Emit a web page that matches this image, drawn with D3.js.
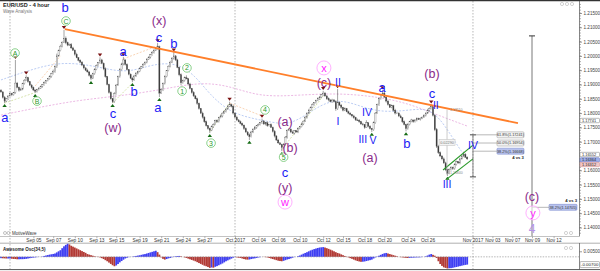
<!DOCTYPE html>
<html>
<head>
<meta charset="utf-8">
<script src="https://cdnjs.cloudflare.com/ajax/libs/d3/7.8.5/d3.min.js"></script>
<style>
  html, body { margin: 0; padding: 0; background: #fff; }
  svg { display: block; font-family: "Liberation Sans", Arial, sans-serif; }
</style>
</head>
<body>
<div id="chart"></div>
<script>
// EUR/USD 4 hour bars, prices kept as pips above 1.1000
const firstOpen = 880;
const closes = [
  874,855,842,850,860,868,864,872,905,890,880,884,903,915,924,910,898,890,881,876,
  882,887,894,899,906,913,920,928,938,946,962,1000,1018,1034,1048,1062,1046,1038,1040,1028,
  1020,1006,994,985,978,968,958,950,944,932,922,938,952,966,976,986,974,955,928,900,
  872,850,840,868,898,928,952,972,986,970,952,936,922,916,930,940,946,956,962,970,
  978,988,996,1004,1012,1020,1026,1032,870,882,904,928,948,964,978,992,1000,986,960,934,
  906,914,924,920,902,886,872,860,850,834,816,800,786,770,756,746,740,752,760,774,
  770,784,790,800,806,814,824,830,824,800,786,776,770,764,758,746,734,724,718,734,
  744,750,756,760,766,772,762,766,756,760,750,736,720,706,696,690,680,690,716,740,
  744,734,730,738,734,746,752,762,772,786,800,810,820,830,836,844,850,856,864,870,
  860,850,846,840,846,840,815,838,828,820,810,815,805,800,795,790,784,776,775,770,
  762,760,750,766,754,746,742,766,800,830,850,864,870,856,842,830,820,826,810,800,
  800,790,784,770,760,746,760,770,776,770,776,780,778,782,786,792,800,810,816,822,
  792,742,684,662,650,640,626,602,590,602,610,606,620,630,626,640,650,656,646,640
];
const wickHi = [
  4,3,5,3,2,4,3,2,81,4,3,5,3,4,8,3,2,4,3,2,
  3,4,2,3,5,3,2,4,3,6,5,8,4,5,3,29,6,4,3,5,
  4,3,5,2,3,4,3,2,5,3,4,3,5,4,3,9,4,3,5,2,
  3,4,2,5,4,3,5,4,10,3,4,2,3,5,4,3,2,4,3,5,
  3,4,2,3,5,4,3,13,4,5,3,4,2,3,5,4,13,3,4,2,
  5,3,4,8,3,4,2,5,3,4,3,2,5,3,4,2,3,5,4,3,
  4,3,5,2,4,3,5,10,3,4,2,5,3,4,3,2,4,3,5,4,
  3,5,2,4,3,9,4,3,5,2,4,3,5,3,4,2,3,5,4,3,
  4,3,5,2,3,4,3,5,2,4,3,5,3,4,2,3,5,4,3,8,
  4,3,5,2,4,3,5,46,3,4,2,5,3,4,3,2,4,3,5,4,
  3,4,2,9,3,4,2,5,4,3,5,3,11,4,3,5,2,4,3,5,
  4,3,5,2,4,3,5,3,4,2,3,5,4,3,2,4,3,5,4,9,
  5,4,6,5,4,3,5,4,3,5,4,3,5,4,3,4,3,9,4,3
];
const wickLo = [
  3,4,7,3,4,2,5,3,4,3,5,2,4,3,2,4,3,5,4,6,
  4,3,2,5,3,4,2,3,4,3,5,4,3,2,4,3,5,4,3,4,
  3,5,2,4,3,4,5,3,2,4,7,3,4,2,3,4,3,5,4,3,
  4,3,5,4,3,2,4,3,5,4,3,4,2,8,3,4,5,3,2,4,
  3,4,2,5,3,4,3,4,14,3,5,4,3,2,4,3,5,4,3,5,
  8,3,4,2,5,3,4,3,2,5,4,3,5,4,3,4,10,3,4,2,
  4,3,2,5,3,4,2,3,4,5,3,4,2,3,4,5,3,4,12,3,
  4,3,5,2,3,4,3,5,4,3,2,4,5,3,4,2,13,4,3,5,
  3,4,2,5,3,4,3,2,4,3,5,4,2,3,4,3,2,4,3,4,
  3,4,5,2,4,3,7,4,3,5,4,3,2,4,3,5,4,3,2,4,
  3,4,5,2,4,3,8,4,3,2,5,3,4,3,5,4,2,3,4,5,
  3,4,2,5,3,10,4,3,2,4,3,5,2,4,3,2,4,3,5,3,
  4,5,6,5,4,5,4,5,10,4,3,5,4,3,4,5,3,4,3,4
];
// Awesome Oscillator (34,5), in pips
const aoPips = [
  -12,-13,-14,-15,-15,-15,-17,-19,-20,-22,-22,-21,-21,-20,-18,-15,-12,-9,-7,-5,
  -3,-1,0,3,8,12,16,20,23,26,30,40,50,60,78,95,108,118,112,100,
  92,84,76,68,60,52,44,36,25,20,15,10,5,2,-2,-5,-12,-20,-30,-40,
  -52,-64,-76,-85,-78,-65,-50,-38,-26,-15,-8,-3,0,2,5,8,11,14,18,22,
  25,30,35,40,45,50,55,42,20,-5,-18,-25,-20,-14,-10,-4,2,5,7,8,
  5,0,-5,-10,-16,-22,-28,-34,-40,-48,-56,-64,-72,-80,-85,-92,-100,-96,-98,-90,
  -84,-76,-68,-60,-50,-40,-32,-24,-16,-8,-2,-5,-8,-10,-15,-20,-24,-25,-24,-20,
  -16,-14,-10,-6,-3,0,-1,-3,-5,-10,-15,-20,-25,-30,-35,-38,-40,-36,-30,-24,
  -20,-14,-8,-2,0,6,12,20,28,35,42,50,58,64,70,75,80,84,86,88,
  84,78,72,65,58,50,42,35,30,22,15,8,2,-5,-12,-18,-25,-32,-38,-42,
  -45,-44,-42,-38,-34,-30,-25,-15,-5,3,10,18,26,32,35,30,25,20,15,10,
  5,0,-3,-5,-7,-9,-10,-9,-8,-7,-6,-5,-5,-4,-2,0,5,12,20,25,
  18,10,-10,-40,-65,-82,-95,-100,-105,-103,-102,-99,-95,-92,-88,-84,-80,-76,-73,-70
];

const dateTicks = [18,29,41,53,64,77,89,101,113,130,143,154,166,179,190,202,213,226,237,262,273,284,295,307];
const dateLabels = ["Sep 05","Sep 07","Sep 10","Sep 13","Sep 15","Sep 19","Sep 21","Sep 24","Sep 27","Oct 2017",
  "Oct 04","Oct 06","Oct 10","Oct 12","Oct 15","Oct 18","Oct 20","Oct 24","Oct 26","Nov 2017","Nov 03","Nov 07","Nov 09","Nov 12"];
const monthBars = [5, 130, 262.2];
// 1.16500 sits under the price boxes, so it carries no label
const priceTicks = [1.14,1.145,1.15,1.155,1.16,1.17,1.175,1.18,1.185,1.19,1.195,1.2,1.205,1.21,1.215];
const oscTicks = [0.005];

// pivots marked with small triangles (bar index)
const highPivots = [8,14,35,55,68,87,96,127,145,179,187,212,239];
const lowPivots = [2,19,50,62,73,88,116,138,156,206,225,248];

// wave labels: [text, bar, pips]
const greenCircled = [["A",7.8,1010],["B",20,842],["C",36.1,1122],["1",100.6,877],["2",103.3,958],["3",116.7,695],["4",146.7,811],["5",157,646]];
const blueWaves = [["b",35.6,1171],["a",2.2,786],["a",67.8,1014],["b",74,877],["c",87.8,1066],["b",96,1042],["c",62.2,800],
  ["a",87.2,821],["c",157.8,594],["a",211.7,891],["b",225.5,695],["c",239.4,868]];
const blueRoman = [["I",187.2,772],["II",187.2,909],["IV",203.3,804],["III",201,709],["V",206.7,706],["II",241.6,828],["III",247.8,552],["IV",262.2,688]];
const purpleWaves = [["(x)",87.8,1122],["(w)",62.2,748],["(a)",157.8,769],["(b)",160.6,681],["(y)",157.8,538],["(c)",179.4,905],
  ["(a)",205,646],["(b)",239.4,938],["(c)",295,507]];
const pinkCircled = [["x",179.4,958],["w",157.8,489],["y",295.5,451]];
const lavenderWaves = [["4",295,396]];

// trend line and channel: [bar, pips]
const trendLine = [[35.5,1094],[287.2,765]];
const channelUpper = [[245.6,601],[262.2,688]];
const channelLower = [[247.8,570],[262.2,640]];

// moving averages: [bar, pips]
const maSlow = [[0,793],[21.7,821],[43.9,846],[66.1,860],[88.3,881],[110.6,909],[127.2,895],[143.9,856],[166.1,863],
  [188.3,870],[210.6,856],[227.2,832],[243.9,790],[258.9,755]];
const maMid = [[0,916],[16.1,951],[32.8,979],[49.4,968],[60.6,951],[71.7,944],[82.8,968],[96.7,979],[107.8,933],[116.1,863],
  [127.2,804],[138.3,783],[149.4,769],[160.6,758],[171.7,804],[182.8,846],[193.9,839],[205,811],[216.1,804],[227.2,811],
  [238.3,818],[246.7,758],[255,671],[258.9,643]];
const guideGreen = [[[2,835],[19,872]],[[62,835],[73,905]],[[116,735],[127,835]],[[156,672],[179,860]]];
const guideOrange = [[[19,895],[33,1000]],[[68,990],[87,1035]],[[127,835],[145,790]]];

// fibonacci projections
const fibBar = 262.2;
const fibLevels = [["61.8%",1.17241],["50.0%",1.16954],["38.2%",1.16668]];
const fibRange = [1.17241, 1.1577];
const targetBar = 295;
const targetRange = [1.2070, 1.1370];
const targetLevel = ["38.2%", 1.14705];
const dropBar = 247.8;
const dropRange = [1.1811, 1.1584];

const axisMarks = [[1.17741,"plain"],[1.16552,"plain"],[1.16364,"bid"],[1.16312,"ask"]];

const W = 600, H = 271;
const P = v => 1.1 + v / 10000;
const x = d3.scaleLinear().domain([0, 321]).range([1, 1 + 321 * 1.8]);
const y = d3.scaleLinear().domain([1.13633, 1.21955]).range([238, 0]);
const yo = d3.scaleLinear().domain([-0.0110, 0.0125]).range([269, 243]);

const bars = closes.map((c, i) => {
  const o = i ? closes[i - 1] : firstOpen;
  return {i: i, o: P(o), c: P(c), h: P(Math.max(o, c) + wickHi[i]), l: P(Math.min(o, c) - wickLo[i])};
});

const svg = d3.select("#chart").append("svg").attr("width", W).attr("height", H);
const defs = svg.append("defs");
defs.append("clipPath").attr("id", "clipMain").append("rect").attr("x", 0).attr("y", 1).attr("width", 579).attr("height", 235);
defs.append("clipPath").attr("id", "clipOsc").append("rect").attr("x", 0).attr("y", 243).attr("width", 579).attr("height", 26);

// month separators
svg.append("g").selectAll("line").data(monthBars).join("line")
  .attr("x1", d => x(d)).attr("x2", d => x(d)).attr("y1", 1).attr("y2", 269)
  .attr("stroke", "#9a9a9a").attr("stroke-width", 0.7).attr("stroke-dasharray", "1.5,1.5");

const main = svg.append("g").attr("clip-path", "url(#clipMain)");

// moving averages
const ln = d3.line().x(d => x(d[0])).y(d => y(P(d[1]))).curve(d3.curveBasis);
main.append("path").attr("d", ln(maSlow)).attr("fill", "none").attr("stroke", "#e6a6dc").attr("stroke-width", 0.8).attr("stroke-dasharray", "2,1.5");
main.append("path").attr("d", ln(maMid)).attr("fill", "none").attr("stroke", "#a9bff0").attr("stroke-width", 0.8).attr("stroke-dasharray", "2,1.5");
const lnStraight = d3.line().x(d => x(d[0])).y(d => y(P(d[1])));
main.append("g").selectAll("path").data(guideGreen).join("path").attr("d", lnStraight)
  .attr("fill", "none").attr("stroke", "#cddc9a").attr("stroke-width", 0.8).attr("stroke-dasharray", "2,1.5");
main.append("g").selectAll("path").data(guideOrange).join("path").attr("d", lnStraight)
  .attr("fill", "none").attr("stroke", "#f7c9a2").attr("stroke-width", 0.8).attr("stroke-dasharray", "2,1.5");

// candles
const cg = main.append("g");
cg.selectAll("line").data(bars).join("line")
  .attr("x1", d => x(d.i)).attr("x2", d => x(d.i))
  .attr("y1", d => y(d.h)).attr("y2", d => y(d.l))
  .attr("stroke", "#444").attr("stroke-width", 0.5);
cg.selectAll("rect").data(bars).join("rect")
  .attr("x", d => x(d.i) - 0.6).attr("width", 1.2)
  .attr("y", d => y(Math.max(d.o, d.c)))
  .attr("height", d => Math.max(0.6, Math.abs(y(d.o) - y(d.c))))
  .attr("fill", d => d.c >= d.o ? "#fff" : "#3a3a3a")
  .attr("stroke", "#555").attr("stroke-width", 0.3);

// pivot triangles
main.append("g").selectAll("path").data(highPivots).join("path")
  .attr("d", k => { const cx = x(k), cy = y(bars[k].h) - 0.8; return `M${cx - 2.2},${cy - 3}L${cx + 2.2},${cy - 3}L${cx},${cy}Z`; })
  .attr("fill", "#7a1212");
main.append("g").selectAll("path").data(lowPivots).join("path")
  .attr("d", k => { const cx = x(k), cy = y(bars[k].l) + 0.8; return `M${cx - 2.2},${cy + 3}L${cx + 2.2},${cy + 3}L${cx},${cy}Z`; })
  .attr("fill", "#156b15");

// trend line and channel
main.append("path").attr("d", lnStraight(trendLine)).attr("stroke", "#ff7f2a").attr("stroke-width", 1.8).attr("fill", "none");
main.append("path").attr("d", lnStraight(channelUpper)).attr("stroke", "#2b9a2b").attr("stroke-width", 1.2).attr("fill", "none");
main.append("path").attr("d", lnStraight(channelLower)).attr("stroke", "#2b9a2b").attr("stroke-width", 1.2).attr("fill", "none");

// drop measurement
const dx = x(dropBar);
main.append("line").attr("x1", dx).attr("x2", dx).attr("y1", y(dropRange[0])).attr("y2", y(dropRange[1]))
  .attr("stroke", "#aaa").attr("stroke-width", 0.6);
main.append("rect").attr("x", dx - 8).attr("y", y((dropRange[0] + dropRange[1]) / 2) - 3).attr("width", 16).attr("height", 6)
  .attr("fill", "#f4f4f4").attr("stroke", "#bbb").attr("stroke-width", 0.5);
main.append("text").attr("x", dx).attr("y", y((dropRange[0] + dropRange[1]) / 2)).attr("dy", "0.35em")
  .attr("text-anchor", "middle").attr("font-size", 3.8).attr("fill", "#777")
  .text((dropRange[0] - dropRange[1] + 0.0002).toFixed(5));
main.append("text").attr("x", dx + 3).attr("y", y(dropRange[0]) + 1).attr("font-size", 3.5).attr("fill", "#888").text(dropRange[0].toFixed(5));
main.append("text").attr("x", dx + 3).attr("y", y(dropRange[1]) - 1).attr("font-size", 3.5).attr("fill", "#888").text(dropRange[1].toFixed(5));

// fib measurement near IV
const fx = x(fibBar);
const ann = main.append("g");
function capLine(g, cx, p1, p2) {
  g.append("line").attr("x1", cx).attr("x2", cx).attr("y1", y(p1)).attr("y2", y(p2)).attr("stroke", "#555").attr("stroke-width", 0.7);
  [p1, p2].forEach(p => g.append("line").attr("x1", cx - 3).attr("x2", cx + 3).attr("y1", y(p)).attr("y2", y(p)).attr("stroke", "#333").attr("stroke-width", 0.9));
}
capLine(ann, fx, fibRange[0], fibRange[1]);
fibLevels.forEach((f, i) => {
  const yy = y(f[1]);
  ann.append("line").attr("x1", fx).attr("x2", fx + 24).attr("y1", yy).attr("y2", yy).attr("stroke", "#888").attr("stroke-width", 0.6);
  ann.append("rect").attr("x", fx + 24).attr("y", yy - 3).attr("width", 27).attr("height", 6).attr("rx", 1)
    .attr("fill", i === 2 ? "#b9c3ee" : "#f2f2f2").attr("stroke", i === 2 ? "#7080c8" : "#999").attr("stroke-width", 0.5);
  ann.append("text").attr("x", fx + 37.5).attr("y", yy).attr("dy", "0.35em").attr("text-anchor", "middle")
    .attr("font-size", 3.8).attr("fill", "#333").text(`${f[0]}(${f[1].toFixed(5)})`);
});
ann.append("text").attr("x", fx + 51).attr("y", y(fibLevels[2][1]) + 7.5).attr("text-anchor", "end")
  .attr("font-size", 4.2).attr("font-weight", "bold").attr("fill", "#222").text("4 vs 3");

// target projection
const tx = x(targetBar);
ann.append("line").attr("x1", tx).attr("x2", tx).attr("y1", y(targetRange[0])).attr("y2", y(targetRange[1])).attr("stroke", "#555").attr("stroke-width", 0.8);
ann.append("line").attr("x1", tx - 3).attr("x2", tx + 3).attr("y1", y(targetRange[0])).attr("y2", y(targetRange[0])).attr("stroke", "#333").attr("stroke-width", 1);
const ty = y(targetLevel[1]);
ann.append("line").attr("x1", tx).attr("x2", tx + 17).attr("y1", ty).attr("y2", ty).attr("stroke", "#888").attr("stroke-width", 0.6);
ann.append("rect").attr("x", tx + 17).attr("y", ty - 3).attr("width", 28).attr("height", 6).attr("rx", 1)
  .attr("fill", "#b9c3ee").attr("stroke", "#7080c8").attr("stroke-width", 0.5);
ann.append("text").attr("x", tx + 31).attr("y", ty).attr("dy", "0.35em").attr("text-anchor", "middle")
  .attr("font-size", 3.8).attr("fill", "#333").text(`${targetLevel[0]}(${targetLevel[1].toFixed(5)})`);
ann.append("text").attr("x", tx + 45).attr("y", ty - 5.5).attr("text-anchor", "end")
  .attr("font-size", 4.2).attr("font-weight", "bold").attr("fill", "#222").text("4 vs 3");

// wave labels
const lab = svg.append("g").attr("clip-path", "url(#clipMain)");
function circled(list, r, fs, ring, ink) {
  const g = lab.append("g").selectAll("g").data(list).join("g")
    .attr("transform", d => `translate(${x(d[1])},${y(P(d[2]))})`);
  g.append("circle").attr("r", r).attr("fill", "#fff").attr("fill-opacity", 0.6).attr("stroke", ring).attr("stroke-width", 0.8);
  g.append("text").attr("text-anchor", "middle").attr("dy", "0.36em").attr("font-size", fs).attr("fill", ink).text(d => d[0]);
}
function plain(list, fs, ink) {
  lab.append("g").selectAll("text").data(list).join("text")
    .attr("x", d => x(d[1])).attr("y", d => y(P(d[2]))).attr("dy", "0.35em")
    .attr("text-anchor", "middle").attr("font-size", fs).attr("fill", ink).text(d => d[0]);
}
circled(greenCircled, 4.3, 7, "#6cc46c", "#2a9a2a");
circled(pinkCircled, 7, 11, "#ff9cff", "#ff22ff");
plain(blueWaves, 13, "#1c1cf5");
plain(blueRoman, 10.5, "#1c1cf5");
plain(purpleWaves, 12.5, "#8a2a8a");
plain(lavenderWaves, 12, "#b592e6");

// titles
svg.append("text").attr("x", 3).attr("y", 6.5).attr("font-size", 5.5).attr("font-weight", "bold").attr("fill", "#222").text("EUR/USD - 4 hour");
svg.append("text").attr("x", 3).attr("y", 13).attr("font-size", 4.5).attr("fill", "#777").text("Wave Analysis");
svg.append("circle").attr("cx", 5).attr("cy", 233).attr("r", 1.5).attr("fill", "none").attr("stroke", "#999").attr("stroke-width", 0.6);
svg.append("circle").attr("cx", 8.5).attr("cy", 233).attr("r", 1.5).attr("fill", "none").attr("stroke", "#999").attr("stroke-width", 0.6);
svg.append("text").attr("x", 12).attr("y", 234.6).attr("font-size", 4.5).attr("fill", "#333").text("MotiveWave");
[[562, 4], [567, 4], [572, 4], [566, 233], [571, 233], [566, 248], [571, 248]].forEach(c =>
  svg.append("circle").attr("cx", c[0]).attr("cy", c[1]).attr("r", 1.6).attr("fill", "none").attr("stroke", "#b5b5b5").attr("stroke-width", 0.6));

// frame lines
svg.append("line").attr("x1", 0).attr("x2", W).attr("y1", 0.6).attr("y2", 0.6).attr("stroke", "#333").attr("stroke-width", 1.4);
svg.append("line").attr("x1", 0).attr("x2", 579).attr("y1", 236.5).attr("y2", 236.5).attr("stroke", "#9a9a9a").attr("stroke-width", 0.6);
svg.append("line").attr("x1", 0).attr("x2", W).attr("y1", 243.2).attr("y2", 243.2).attr("stroke", "#9a9a9a").attr("stroke-width", 0.8);
svg.append("line").attr("x1", 0).attr("x2", W).attr("y1", 269.6).attr("y2", 269.6).attr("stroke", "#555").attr("stroke-width", 1);
svg.append("line").attr("x1", 579.5).attr("x2", 579.5).attr("y1", 1).attr("y2", 236.5).attr("stroke", "#555").attr("stroke-width", 0.7);
svg.append("line").attr("x1", 579.5).attr("x2", 579.5).attr("y1", 243).attr("y2", 269.5).attr("stroke", "#555").attr("stroke-width", 0.7);

// price axis
const minor = svg.append("g");
minor.selectAll("line").data(y.ticks(80).filter(t => y(t) > 2 && y(t) < 236)).join("line")
  .attr("x1", 579.5).attr("x2", 581).attr("y1", t => y(t)).attr("y2", t => y(t)).attr("stroke", "#666").attr("stroke-width", 0.5);
const axR = svg.append("g").attr("transform", "translate(579.5,0)")
  .call(d3.axisRight(y).tickValues(priceTicks).tickFormat(d3.format(".5f")).tickSize(2.5).tickPadding(1.5));
axR.select(".domain").remove();
axR.selectAll("line").attr("stroke", "#555").attr("stroke-width", 0.6);
axR.selectAll("text").attr("font-size", 4.6).attr("fill", "#444").attr("font-family", "Liberation Sans, Arial, sans-serif");

// price boxes on the axis, stacked so they never cover each other
const markStyle = {plain: ["#fff", "#777"], bid: ["#9fb0ea", "#5c6fc4"], ask: ["#f1c7c7", "#c88"]};
let lastBoxY = -10;
axisMarks.forEach(m => {
  const yy = Math.max(y(m[0]), lastBoxY + 4.6);
  lastBoxY = yy;
  svg.append("rect").attr("x", 580).attr("y", yy - 2.2).attr("width", 19.5).attr("height", 4.4).attr("rx", 0.8)
    .attr("fill", markStyle[m[1]][0]).attr("stroke", markStyle[m[1]][1]).attr("stroke-width", 0.5);
  svg.append("text").attr("x", 582).attr("y", yy).attr("dy", "0.35em").attr("font-size", 3.9).attr("fill", "#222").text(m[0].toFixed(5));
});

// date axis
const axB = svg.append("g").attr("transform", "translate(0,236.5)")
  .call(d3.axisBottom(x).tickValues(dateTicks).tickFormat((d, i) => dateLabels[i]).tickSize(1.8).tickPadding(0.6));
axB.select(".domain").remove();
axB.selectAll("line").attr("stroke", "#666").attr("stroke-width", 0.5);
axB.selectAll("text").attr("font-size", 4.8).attr("fill", "#333").attr("font-family", "Liberation Sans, Arial, sans-serif");

// awesome oscillator
const osc = svg.append("g").attr("clip-path", "url(#clipOsc)");
osc.selectAll("rect").data(aoPips).join("rect")
  .attr("x", (d, i) => x(i) - 0.9).attr("width", 1.8)
  .attr("y", d => Math.min(yo(d / 10000), yo(0)))
  .attr("height", d => Math.abs(yo(d / 10000) - yo(0)))
  .attr("fill", (d, i) => (i > 0 && d < aoPips[i - 1]) ? "#b23a35" : "#3f3ff2");
svg.append("line").attr("x1", 0).attr("x2", 579).attr("y1", yo(0)).attr("y2", yo(0))
  .attr("stroke", "#888").attr("stroke-width", 0.6).attr("stroke-dasharray", "1.5,1.2");
svg.append("text").attr("x", 3).attr("y", 250.5).attr("font-size", 4.5).attr("font-weight", "bold").attr("fill", "#222").text("Awesome Osc(34,5)");
const axO = svg.append("g").attr("transform", "translate(579.5,0)")
  .call(d3.axisRight(yo).tickValues(oscTicks).tickFormat(d3.format(".5f")).tickSize(2.5).tickPadding(1.5));
axO.select(".domain").remove();
axO.selectAll("line").attr("stroke", "#555").attr("stroke-width", 0.6);
axO.selectAll("text").attr("font-size", 4.6).attr("fill", "#444").attr("font-family", "Liberation Sans, Arial, sans-serif");
const lastAo = aoPips[aoPips.length - 1] / 10000;
svg.append("rect").attr("x", 580).attr("y", yo(lastAo) - 3).attr("width", 19.5).attr("height", 6).attr("rx", 1)
  .attr("fill", "#fff").attr("stroke", "#777").attr("stroke-width", 0.5);
svg.append("text").attr("x", 581).attr("y", yo(lastAo)).attr("dy", "0.35em").attr("font-size", 4.4).attr("fill", "#222").text(lastAo.toFixed(5));
</script>
</body>
</html>
